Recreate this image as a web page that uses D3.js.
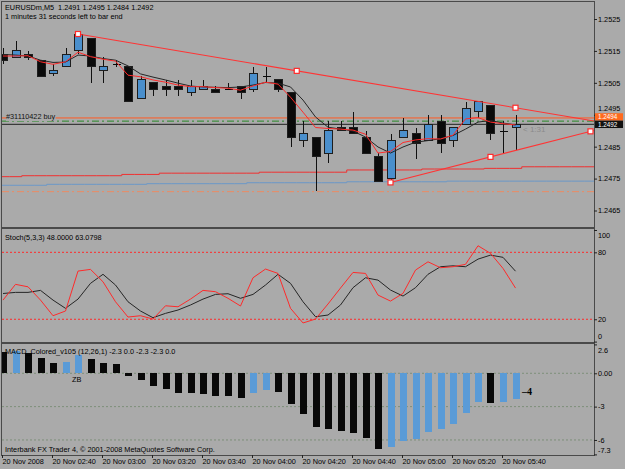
<!DOCTYPE html>
<html>
<head>
<meta charset="utf-8">
<script src="https://cdn.jsdelivr.net/npm/d3@7"></script>
<style>
  body { margin: 0; background: #aaaaaa; }
  svg { display: block; font-family: "Liberation Sans", Arial, sans-serif; }
  text { white-space: pre; }
</style>
</head>
<body>
<div id="chart"></div>
<script>
const width = 625, height = 469;
const plotLeft = 2, plotRight = 594;

// EURUSDm M5 candles, 20 Nov 2008 02:20 .. 05:45
const open  = [1.2514, 1.2513, 1.2514, 1.2512, 1.2508, 1.2510, 1.2515, 1.2519, 1.2509, 1.2511,
               1.2510, 1.2500, 1.2505, 1.2504, 1.2504, 1.2502, 1.2503, 1.2503, 1.2503, 1.2504,
               1.2503, 1.2507, 1.2506, 1.2502, 1.2487, 1.2488, 1.2483, 1.2491, 1.2491, 1.2488,
               1.2482, 1.2475, 1.2488, 1.2489, 1.2487, 1.2493, 1.2487, 1.2492, 1.2496, 1.2498,
               1.2490, 1.2491];
const high  = [1.2516, 1.2518, 1.2515, 1.2512, 1.2511, 1.2516, 1.2520, 1.2519, 1.2513, 1.2512,
               1.2510, 1.2507, 1.2505, 1.2506, 1.2506, 1.2506, 1.2506, 1.2504, 1.2505, 1.2504,
               1.2510, 1.2510, 1.2506, 1.2502, 1.2493, 1.2488, 1.2493, 1.2493, 1.2496, 1.2490,
               1.2483, 1.2489, 1.2494, 1.2491, 1.2495, 1.2495, 1.2491, 1.2499, 1.2499, 1.2498,
               1.2493, 1.2495];
const low   = [1.2511, 1.2513, 1.2512, 1.2507, 1.2507, 1.2510, 1.2514, 1.2505, 1.2505, 1.2510,
               1.2499, 1.2500, 1.2501, 1.2501, 1.2501, 1.2501, 1.2503, 1.2502, 1.2503, 1.2500,
               1.2502, 1.2505, 1.2502, 1.2485, 1.2485, 1.2471, 1.2480, 1.2490, 1.2489, 1.2483,
               1.2474, 1.2474, 1.2488, 1.2481, 1.2487, 1.2483, 1.2485, 1.2492, 1.2494, 1.2487,
               1.2483, 1.2484];
const close = [1.2512, 1.2515, 1.2513, 1.2507, 1.2509, 1.2514, 1.2520, 1.2510, 1.2510, 1.2511,
               1.2499, 1.2506, 1.2503, 1.2503, 1.2503, 1.2504, 1.2504, 1.2502, 1.2503, 1.2502,
               1.2508, 1.2507, 1.2503, 1.2488, 1.2489, 1.2482, 1.2490, 1.2490, 1.2489, 1.2483,
               1.2474, 1.2487, 1.2490, 1.2486, 1.2492, 1.2486, 1.2491, 1.2497, 1.2499, 1.2489,
               1.2490, 1.2492];

// moving averages on price
const maFast = [1.25134, 1.25134, 1.25135, 1.25116, 1.25108, 1.25116, 1.25146, 1.25132, 1.25124, 1.25118,
                1.25074, 1.25069, 1.25059, 1.25052, 1.25043, 1.25038, 1.25038, 1.25035, 1.25033, 1.25027,
                1.25040, 1.25052, 1.25046, 1.25005, 1.24958, 1.24910, 1.24907, 1.24905, 1.24902, 1.24889,
                1.24830, 1.24835, 1.24863, 1.24871, 1.24875, 1.24874, 1.24886, 1.24937, 1.24941, 1.24927,
                1.24922, 1.24918];
const maSlow = [1.25139, 1.25137, 1.25134, 1.25121, 1.25114, 1.25115, 1.25137, 1.25134, 1.25126, 1.25121,
                1.25103, 1.25078, 1.25068, 1.25059, 1.25049, 1.25040, 1.25037, 1.25036, 1.25035, 1.25037,
                1.25043, 1.25051, 1.25049, 1.25037, 1.24996, 1.24943, 1.24911, 1.24905, 1.24899, 1.24880,
                1.24849, 1.24830, 1.24849, 1.24864, 1.24869, 1.24875, 1.24885, 1.24905, 1.24927, 1.24932,
                1.24924, 1.24918];

// shifted slow lines (run on past the last bar)
const levelRed  = [1.24756, 1.24756, 1.24759, 1.24759, 1.24759, 1.24759, 1.24759, 1.24759, 1.24759, 1.24759,
                   1.24763, 1.24763, 1.24763, 1.24767, 1.24767, 1.24767, 1.24767, 1.24767, 1.24767, 1.24767,
                   1.24767, 1.24770, 1.24770, 1.24770, 1.24770, 1.24770, 1.24770, 1.24770, 1.24777, 1.24777,
                   1.24777, 1.24777, 1.24777, 1.24777, 1.24780, 1.24780, 1.24780, 1.24780, 1.24780, 1.24782,
                   1.24782, 1.24782, 1.24787, 1.24787, 1.24787, 1.24787, 1.24787, 1.24787];
const levelBlue = [1.24729, 1.24729, 1.24729, 1.24729, 1.24732, 1.24732, 1.24732, 1.24732, 1.24732, 1.24732,
                   1.24732, 1.24732, 1.24734, 1.24734, 1.24734, 1.24734, 1.24734, 1.24734, 1.24734, 1.24734,
                   1.24737, 1.24737, 1.24737, 1.24737, 1.24737, 1.24737, 1.24737, 1.24737, 1.24740, 1.24740,
                   1.24740, 1.24740, 1.24740, 1.24740, 1.24740, 1.24740, 1.24742, 1.24742, 1.24742, 1.24742,
                   1.24742, 1.24742, 1.24742, 1.24742, 1.24742, 1.24742, 1.24742, 1.24742];

const orderPrice = 1.2494, stopPrice = 1.2493, bidPrice = 1.2492, supportPrice = 1.24709;
// trend lines: [bar index, price]
const upperTrend = [[6, 1.25203], [41, 1.24972]];
const lowerTrend = [[31, 1.24738], [47, 1.24898]];

// Stoch(5,3,3)
const stochK = [37.2, 51.3, 49.1, 37.2, 23.2, 27.4, 63.2, 64.7, 53.6, 35.7,
                22.0, 23.2, 20.2, 32.1, 31.2, 38.1, 45.9, 44.7, 38.8, 31.9,
                57.2, 65.0, 61.1, 29.8, 16.7, 20.2, 33.7, 48.0, 62.0, 61.1,
                41.7, 36.3, 43.2, 64.1, 71.5, 66.2, 67.1, 69.2, 85.9, 79.1,
                65.6, 48.0];
const stochD = [43.1, 44.1, 44.1, 45.9, 37.2, 29.8, 38.1, 52.2, 60.3, 50.7,
                35.7, 27.4, 21.4, 25.3, 28.3, 32.8, 38.1, 42.3, 42.9, 38.8,
                42.3, 50.7, 60.3, 52.2, 35.7, 22.3, 23.8, 32.8, 48.3, 57.2,
                55.1, 46.2, 40.8, 48.3, 60.3, 67.1, 67.9, 67.1, 73.9, 77.5,
                75.5, 63.08];
const stochLevels = [80, 20];

// MACD_Colored histogram
const macd = [1.95, 2.05, 1.86, 1.35, 0.96, 1.05, 1.65, 1.29, 0.9, 0.81,
              -0.25, -0.6, -1.1, -1.4, -1.74, -1.8, -1.86, -2.04, -2.05, -2.19,
              -1.8, -1.5, -1.65, -2.8, -3.66, -4.86, -5.04, -5.16, -5.35, -5.86,
              -6.85, -6.6, -6.07, -5.9, -5.25, -5.04, -4.56, -3.6, -2.6, -2.64,
              -2.55, -2.3];
const macdLevels = [0, -3, -6];

const priceTicks = [1.2525, 1.2515, 1.2505, 1.2495, 1.2485, 1.2475, 1.2465];
const stochTicks = [100, 80, 20, 0];
const macdTicks = [2.6, 0, -3, -6, -7.3];
const macdTickLabels = ["2.6", "0.00", "-3", "-6", "-7.3"];
const timeTickIndex = [0, 4, 8, 12, 16, 20, 24, 28, 32, 36, 40];
const timeLabels = ["20 Nov 2008", "20 Nov 02:40", "20 Nov 03:00", "20 Nov 03:20", "20 Nov 03:40",
                    "20 Nov 04:00", "20 Nov 04:20", "20 Nov 04:40", "20 Nov 05:00", "20 Nov 05:20",
                    "20 Nov 05:40"];

const bg = "#aaaaaa";
const upColor = "#4a8fcc";
const fontSize = "7.3px";

const panels = {
  main:  {top: 2,   bottom: 227},
  stoch: {top: 229, bottom: 342},
  macd:  {top: 344, bottom: 455}
};

const x = d3.scaleLinear().domain([0, 41]).range([3, 515.5]);
const yPrice = d3.scaleLinear().domain([1.2465, 1.2525]).range([210.5, 19]);
const yStoch = d3.scaleLinear().domain([0, 100]).range([341.6, 230]);
const yMacd = d3.scaleLinear().domain([-7.3, 2.6]).range([454.4, 344.4]);

const svg = d3.select("#chart").append("svg")
  .attr("width", width)
  .attr("height", height);

svg.append("rect").attr("width", width).attr("height", height).attr("fill", bg);

const defs = svg.append("defs");
Object.entries(panels).forEach(([name, p]) => {
  defs.append("clipPath").attr("id", "clip-" + name)
    .append("rect")
    .attr("x", plotLeft).attr("y", p.top)
    .attr("width", plotRight - plotLeft).attr("height", p.bottom - p.top);
});

const gMain = svg.append("g").attr("clip-path", "url(#clip-main)");
const gStoch = svg.append("g").attr("clip-path", "url(#clip-stoch)");
const gMacd = svg.append("g").attr("clip-path", "url(#clip-macd)");

// ---------- main panel ----------
function hLine(g, yv, color, dash) {
  g.append("line")
    .attr("x1", plotLeft).attr("x2", plotRight)
    .attr("y1", yv).attr("y2", yv)
    .attr("stroke", color).attr("stroke-width", 1)
    .attr("stroke-dasharray", dash || null);
}

hLine(gMain, yPrice(orderPrice), "#ff5a22");
hLine(gMain, yPrice(stopPrice), "#2a8a2a", "7,3,2,3");
hLine(gMain, yPrice(bidPrice), "#222222");
hLine(gMain, yPrice(supportPrice), "#ec8a62", "7,3,2,3");

const levelLine = d3.line()
  .x((d, i) => x(i) - 6.25)
  .y(d => yPrice(d))
  .curve(d3.curveStepAfter);

gMain.append("path").datum(levelBlue.concat([levelBlue[levelBlue.length - 1]]))
  .attr("d", levelLine).attr("fill", "none")
  .attr("stroke", "#6b98c8").attr("stroke-width", 1);
gMain.append("path").datum(levelRed.concat([levelRed[levelRed.length - 1]]))
  .attr("d", levelLine).attr("fill", "none")
  .attr("stroke", "#f03030").attr("stroke-width", 1);

// order label
const orderLabel = gMain.append("g");
const orderText = orderLabel.append("text")
  .attr("x", 6).attr("y", yPrice(orderPrice) + 1.2)
  .attr("font-size", fontSize).attr("fill", "#111")
  .text("#31110422 buy");
const ob = orderText.node().getBBox();
orderLabel.insert("rect", "text")
  .attr("x", ob.x).attr("y", ob.y).attr("width", ob.width).attr("height", ob.height)
  .attr("fill", bg);

// candles
const bars = open.map((o, i) => ({i: i, o: o, h: high[i], l: low[i], c: close[i]}));

const candle = gMain.append("g").attr("shape-rendering", "crispEdges")
  .selectAll("g").data(bars).join("g");

candle.append("line")
  .attr("x1", d => Math.round(x(d.i)) + 0.5).attr("x2", d => Math.round(x(d.i)) + 0.5)
  .attr("y1", d => yPrice(d.h)).attr("y2", d => yPrice(d.l))
  .attr("stroke", "#111");

candle.append("rect")
  .attr("x", d => Math.round(x(d.i)) - 3.5)
  .attr("width", 8)
  .attr("y", d => yPrice(Math.max(d.o, d.c)))
  .attr("height", d => Math.max(1, Math.abs(yPrice(d.o) - yPrice(d.c))))
  .attr("fill", d => d.c > d.o ? upColor : "#0a0a0a")
  .attr("stroke", d => d.c === d.o ? "none" : "#1e1e1e")
  .attr("stroke-width", 1);

// moving averages
const maLine = d3.line().x((d, i) => x(i)).y(d => yPrice(d));
gMain.append("path").datum(maSlow).attr("d", maLine)
  .attr("fill", "none").attr("stroke", "#262626").attr("stroke-width", 1);
gMain.append("path").datum(maFast).attr("d", maLine)
  .attr("fill", "none").attr("stroke", "#ff2a2a").attr("stroke-width", 1);

// trend lines (rays to the right edge) with selection markers
const edgeIndex = x.invert(plotRight);
function drawTrend(t) {
  const [i0, p0] = t[0], [i1, p1] = t[1];
  const slope = (p1 - p0) / (i1 - i0);
  const pEdge = p0 + slope * (edgeIndex - i0);
  gMain.append("line")
    .attr("x1", x(i0)).attr("y1", yPrice(p0))
    .attr("x2", x(edgeIndex)).attr("y2", yPrice(pEdge))
    .attr("stroke", "#ff3434").attr("stroke-width", 1.1);
  const pts = [t[0], [(i0 + i1) / 2, (p0 + p1) / 2], t[1]];
  gMain.selectAll(null).data(pts).join("rect")
    .attr("x", d => x(d[0]) - 2.5).attr("y", d => yPrice(d[1]) - 2.5)
    .attr("width", 5).attr("height", 5)
    .attr("fill", "#ffffff").attr("stroke", "#ff2a2a").attr("stroke-width", 1.2);
}
drawTrend(upperTrend);
drawTrend(lowerTrend);

gMain.append("text")
  .attr("x", 523).attr("y", yPrice(bidPrice) + 8)
  .attr("font-size", "8px").attr("fill", "#8a8a8a")
  .text("< 1:31");

svg.append("text").attr("x", 5).attr("y", 10.3)
  .attr("font-size", fontSize).attr("fill", "#000")
  .text("EURUSDm,M5  1.2491 1.2495 1.2484 1.2492");
svg.append("text").attr("x", 5).attr("y", 18.5)
  .attr("font-size", fontSize).attr("fill", "#000")
  .text("1 minutes 31 seconds left to bar end");

// ---------- stochastic panel ----------
stochLevels.forEach(v => hLine(gStoch, yStoch(v), "#ff2a2a", "2,2"));

const stochLine = d3.line().x((d, i) => x(i)).y(d => yStoch(d));
gStoch.append("path").datum(stochD).attr("d", stochLine)
  .attr("fill", "none").attr("stroke", "#262626").attr("stroke-width", 1);
gStoch.append("path").datum(stochK).attr("d", stochLine)
  .attr("fill", "none").attr("stroke", "#ff2a2a").attr("stroke-width", 1);

svg.append("text").attr("x", 5).attr("y", 239.5)
  .attr("font-size", fontSize).attr("fill", "#000")
  .text("Stoch(5,3,3) 48.0000 63.0798");

// ---------- MACD panel ----------
macdLevels.forEach(v => hLine(gMacd, yMacd(v), "#7d8f7a", "2,2"));

gMacd.append("g").attr("shape-rendering", "crispEdges")
  .selectAll("rect").data(macd).join("rect")
  .attr("x", (d, i) => Math.round(x(i)) - 3)
  .attr("width", 7)
  .attr("y", d => yMacd(Math.max(0, d)))
  .attr("height", d => Math.abs(yMacd(d) - yMacd(0)))
  .attr("fill", (d, i) => i > 0 && d > macd[i - 1] ? "#5a9bd7" : "#080808");

svg.append("text").attr("x", 5).attr("y", 353.5)
  .attr("font-size", fontSize).attr("fill", "#000")
  .text("MACD_Colored_v105 (12,26,1) -2.3 0.0 -2.3 -2.3 0.0");
svg.append("text").attr("x", x(6) - 6).attr("y", 382)
  .attr("font-size", fontSize).attr("fill", "#000")
  .text("ZB");
svg.append("text").attr("x", x(41) + 6.5).attr("y", 395)
  .attr("font-family", "'Liberation Serif', serif").attr("font-weight", "bold")
  .attr("font-size", "10px").attr("fill", "#000")
  .text("\u20134");
svg.append("text").attr("x", 5).attr("y", 451.5)
  .attr("font-size", fontSize).attr("fill", "#000")
  .text("Interbank FX Trader 4, \u00a9 2001-2008 MetaQuotes Software Corp.");

// ---------- panel frames ----------
Object.values(panels).forEach(p => {
  svg.append("rect")
    .attr("x", plotLeft - 0.5).attr("y", p.top - 0.5)
    .attr("width", plotRight - plotLeft + 1).attr("height", p.bottom - p.top + 1)
    .attr("fill", "none").attr("stroke", "#4a4a4a").attr("stroke-width", 1);
});

// ---------- axes ----------
function styleAxis(g) {
  g.select(".domain").remove();
  g.selectAll(".tick line").attr("stroke", "#222");
  g.selectAll(".tick text").attr("font-size", fontSize).attr("fill", "#000")
    .attr("font-family", "'Liberation Sans', Arial, sans-serif");
}

const bidY = yPrice(bidPrice);
const orderY = Math.min(yPrice(orderPrice), bidY - 7.4);

const priceAxis = svg.append("g").attr("transform", `translate(${plotRight},0)`)
  .call(d3.axisRight(yPrice).tickValues(priceTicks).tickSize(3).tickPadding(1)
    .tickFormat(d3.format(".4f")))
  .call(styleAxis);
// keep the tick label just under the order box clear of it
priceAxis.selectAll(".tick text")
  .attr("y", d => Math.min(0, (orderY - 3.7) - 4.6 - yPrice(d)) < 0 && Math.abs(yPrice(d) - orderY) < 8
    ? (orderY - 3.7) - 4.6 - yPrice(d) : 0);

const stochAxis = svg.append("g").attr("transform", `translate(${plotRight},0)`)
  .call(d3.axisRight(yStoch).tickValues(stochTicks).tickSize(3).tickPadding(1))
  .call(styleAxis);
stochAxis.selectAll(".tick text").attr("y", d => d === 100 ? 5 : d === 0 ? -5 : 0);

const macdAxis = svg.append("g").attr("transform", `translate(${plotRight},0)`)
  .call(d3.axisRight(yMacd).tickValues(macdTicks).tickSize(3).tickPadding(1)
    .tickFormat((d, i) => macdTickLabels[i]))
  .call(styleAxis);
macdAxis.selectAll(".tick text").attr("y", d => d === 2.6 ? 5.6 : d === -7.3 ? -4.4 : 0);

const timeAxis = svg.append("g").attr("transform", `translate(0,${panels.macd.bottom})`)
  .call(d3.axisBottom(x).tickValues(timeTickIndex).tickSize(3).tickPadding(1)
    .tickFormat((d, i) => timeLabels[i]))
  .call(styleAxis);
timeAxis.selectAll(".tick line").attr("x1", -1).attr("x2", -1);
timeAxis.selectAll(".tick text").attr("text-anchor", "start").attr("x", -1);

// price boxes for order and bid
[[orderY, orderPrice, "#ff6a1e"], [bidY, bidPrice, "#111111"]].forEach(([yy, p, col]) => {
  svg.append("rect").attr("x", plotRight + 1).attr("y", yy - 3.7)
    .attr("width", 28).attr("height", 7.4).attr("fill", col);
  svg.append("text").attr("x", plotRight + 4).attr("y", yy + 2.3)
    .attr("font-size", "6.3px").attr("fill", "#ffffff")
    .text(d3.format(".4f")(p));
});
</script>
</body>
</html>
